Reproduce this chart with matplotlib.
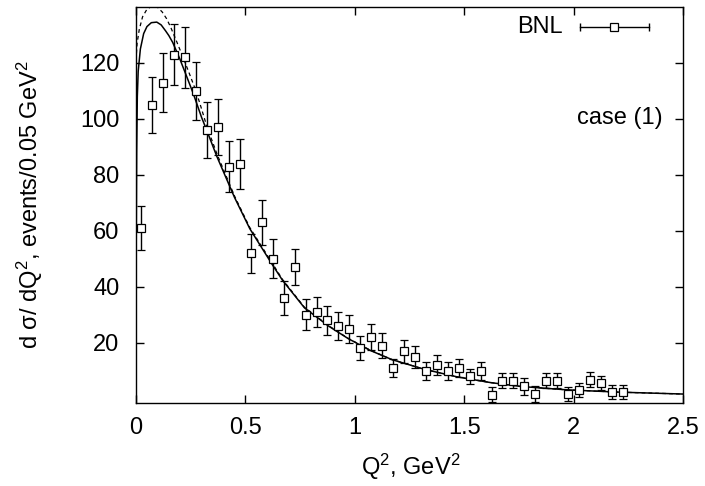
import matplotlib
matplotlib.use("Agg")
import matplotlib.pyplot as plt

plt.rcParams['font.family'] = ['Liberation Sans', 'DejaVu Sans']
plt.rcParams['mathtext.fontset'] = 'custom'
plt.rcParams['mathtext.rm'] = 'Liberation Sans'
plt.rcParams['mathtext.it'] = 'Liberation Sans:italic'

# ---- data (BNL points, events / 0.05 GeV^2) ----
q2 = [0.025, 0.075, 0.125, 0.175, 0.225, 0.275, 0.325, 0.375, 0.425, 0.475,
      0.525, 0.575, 0.625, 0.675, 0.725, 0.775, 0.825, 0.875, 0.925, 0.975,
      1.025, 1.075, 1.125, 1.175, 1.225, 1.275, 1.325, 1.375, 1.425, 1.475,
      1.525, 1.575, 1.625, 1.675, 1.725, 1.775, 1.825, 1.875, 1.925, 1.975,
      2.025, 2.075, 2.125, 2.175, 2.225]
events = [61, 105, 113, 123, 122, 110, 96, 97, 83, 84,
          52, 63, 50, 36, 47, 30, 31, 28, 26, 25,
          18, 22, 19, 11, 17, 15, 10, 12, 10, 11,
          8, 10, 1.5, 6.5, 6.5, 4.4, 1.7, 6.5, 6.5, 1.7,
          3.2, 6.8, 5.6, 2.5, 2.5]
errors = [8, 10, 10.5, 11, 11, 10.5, 10, 10, 9, 9,
          7, 8, 7, 6, 6.5, 5.5, 5.5, 5.3, 5, 5,
          4.3, 4.7, 4.4, 3.3, 4.1, 3.9, 3.2, 3.5, 3.2, 3.3,
          2.8, 3.2, 2.8, 2.7, 2.7, 3.0, 2.8, 2.7, 2.7, 2.6,
          2.6, 2.7, 2.6, 2.5, 2.5]

# ---- theory curves ----
solid_x = [0.0, 0.001, 0.003, 0.006, 0.01, 0.02, 0.035, 0.05, 0.07, 0.095,
           0.115, 0.135, 0.15, 0.168, 0.2, 0.23, 0.262, 0.3, 0.323, 0.37,
           0.45, 0.52, 0.62, 0.67, 0.77, 0.88, 0.97, 1.07, 1.17, 1.32,
           1.47, 1.62, 1.76, 1.97, 2.2, 2.5]
solid_y = [0.0, 55, 88, 108, 117, 125, 130.5, 133, 134.4, 134.6,
           133.6, 131.5, 129.8, 127.3, 121.5, 115.5, 109, 100.5, 96, 86.5,
           72, 60.8, 48.3, 42.3, 32.5, 26, 21.5, 17.3, 14.0, 10.5,
           7.8, 5.8, 4.4, 3.2, 2.4, 1.7]

dashed_x = [0.0, 0.005, 0.015, 0.03, 0.05, 0.07, 0.085, 0.1, 0.12, 0.14,
            0.16, 0.183, 0.21, 0.24, 0.274, 0.3, 0.323, 0.37, 0.45, 0.52,
            0.62, 0.67, 0.77, 0.88, 0.97, 1.07, 1.17, 1.32, 1.47, 1.62,
            1.76, 1.97, 2.2, 2.5]
dashed_y = [121, 127, 132, 136.5, 139.2, 140.2, 140.4, 139.8, 138.2, 135.8,
            132.5, 128.2, 123, 117, 110, 103.5, 97.5, 87.5, 72.5, 61.2,
            48.8, 42.6, 32.7, 26.1, 21.6, 17.4, 14.0, 10.5,
            7.8, 5.8, 4.4, 3.2, 2.4, 1.7]

xticks = [0, 0.5, 1, 1.5, 2, 2.5]
xticklabels = ['0', '0.5', '1', '1.5', '2', '2.5']
yticks = [20, 40, 60, 80, 100, 120]

FS = 17

fig = plt.figure(figsize=(7.05, 4.86), dpi=100)
ax = fig.add_axes([136/705, 1-403/486, (683-136)/705, (403-7)/486])

ax.plot(solid_x, solid_y, color='black', lw=1.1, zorder=3)
ax.plot(dashed_x, dashed_y, color='black', lw=0.9, ls=(0, (3, 2.5)), zorder=3)
ax.errorbar(q2, events, yerr=errors, fmt='s', mfc='white', mec='black',
            ms=5.5, mew=0.9, ecolor='black', elinewidth=1.0, capsize=3,
            capthick=1.0, zorder=4)

ax.set_xlim(0, 2.5)
ax.set_ylim(-1.5, 140)
ax.set_xticks(xticks)
ax.set_xticklabels(xticklabels)
ax.set_yticks(yticks)
ax.tick_params(direction='in', top=True, right=True, length=6, width=1,
               labelsize=FS)
ax.tick_params(axis='x', pad=10)
ax.tick_params(axis='y', pad=12)
for s in ax.spines.values():
    s.set_linewidth(1.0)

ax.set_xlabel('Q$^2$, GeV$^2$', fontsize=FS, va='center')
ax.xaxis.set_label_coords(0.503, -0.162)
ax.set_ylabel('d σ/ dQ$^2$, events/0.05 GeV$^2$', fontsize=FS, va='center')
ax.yaxis.set_label_coords(-0.194, 0.5)

# legend sample (gnuplot style)
ly = 0.950
ax.text(0.781, ly, 'BNL', transform=ax.transAxes, ha='right', va='center',
        fontsize=FS)
ax.plot([0.8117, 0.9378], [ly, ly], transform=ax.transAxes, color='black',
        lw=1.0, clip_on=False)
ax.plot([0.8117, 0.9378], [ly, ly], transform=ax.transAxes, ls='none',
        marker='|', ms=6, mew=1.0, color='black', clip_on=False)
ax.plot([0.874], [ly], transform=ax.transAxes, ls='none', marker='s',
        mfc='white', mec='black', ms=5.5, mew=0.9, clip_on=False)

ax.text(0.9634, 0.7197, 'case (1)', transform=ax.transAxes, ha='right',
        va='center', fontsize=FS)

fig.savefig('out.png', dpi=100)
